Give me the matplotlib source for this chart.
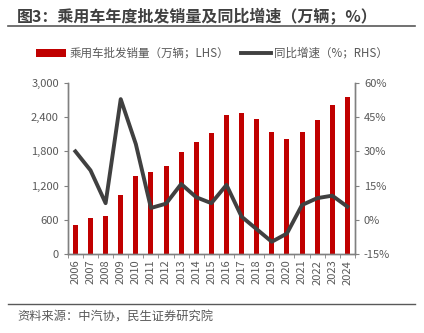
import numpy as np
import matplotlib.pyplot as plt
from matplotlib.ticker import FuncFormatter

plt.rcParams['font.family'] = ['Noto Sans CJK SC', 'DejaVu Sans']

years = [str(y) for y in range(2006, 2025)]
sales = [518, 630, 676, 1033, 1376, 1447, 1550, 1793, 1970, 2115,
         2438, 2472, 2371, 2144, 2018, 2148, 2356, 2606, 2756]
yoy = [30.0, 21.7, 7.3, 52.9, 33.2, 5.2, 7.1, 15.7, 9.9, 7.3,
       15.3, 1.4, -4.1, -9.6, -6.0, 6.5, 9.5, 10.6, 5.8]

txt = '#595959'
axc = '#808080'

fig = plt.figure(figsize=(4.24, 3.33), dpi=100)
ax = fig.add_axes([0.160, 0.237, 0.677, 0.514])
ax2 = ax.twinx()

x = np.arange(len(years))
ax.bar(x, sales, width=0.33, color='#C00000', label='乘用车批发销量（万辆；LHS）', zorder=2)
ax2.plot(x, yoy, color='#404040', lw=2.8, label='同比增速（%；RHS）', zorder=3)

ax.set_xlim(-0.5, len(years) - 0.5)
ax.set_ylim(0, 3000)
ax.set_yticks(np.arange(0, 3001, 600))
ax.yaxis.set_major_formatter(FuncFormatter(lambda v, p: f'{int(v):,}'))
ax2.set_ylim(-15, 60)
ax2.set_yticks(np.arange(-15, 61, 15))
ax2.yaxis.set_major_formatter(FuncFormatter(lambda v, p: f'{int(v)}%'))

ax.set_xticks(x)
ax.set_xticklabels(years, rotation=90)
ax.set_xticks(np.arange(-0.5, len(years), 1), minor=True)
ax.tick_params(axis='x', which='major', length=0, labelsize=8, labelcolor=txt, pad=4)
ax.tick_params(axis='x', which='minor', length=3, color=axc, direction='out')
ax.tick_params(axis='y', labelsize=8, labelcolor=txt, color=axc, length=3, direction='out')
ax2.tick_params(axis='y', labelsize=8, labelcolor=txt, color=axc, length=3, direction='out')

for a in (ax, ax2):
    a.spines['top'].set_visible(False)
    for s in ('left', 'right', 'bottom'):
        a.spines[s].set_color(axc)
        a.spines[s].set_linewidth(1.0)
ax2.set_zorder(ax.get_zorder() + 1)
ax2.patch.set_visible(False)

# legend above the plot area
h1, l1 = ax.get_legend_handles_labels()
h2, l2 = ax2.get_legend_handles_labels()
fig.legend(h1 + h2, l1 + l2, loc='center', bbox_to_anchor=(0.5, 0.84), ncol=2,
           frameon=False, fontsize=8.3, labelcolor=txt, handlelength=2.6,
           handletextpad=0.3, columnspacing=1.0)

# title and source
fig.text(0.04, 0.952, '图3：乘用车年度批发销量及同比增速（万辆；%）', fontsize=11.5,
         fontweight='bold', color='#404040', va='center', ha='left')
fig.add_artist(plt.Line2D([0.019, 0.979], [0.922, 0.922], color='#595959', lw=1.2))
fig.add_artist(plt.Line2D([0.019, 0.979], [0.087, 0.087], color='#595959', lw=1.0))
fig.text(0.04, 0.048, '资料来源：中汽协，民生证券研究院', fontsize=8.8, color=txt,
         va='center', ha='left')

fig.savefig('out.png', dpi=100)
